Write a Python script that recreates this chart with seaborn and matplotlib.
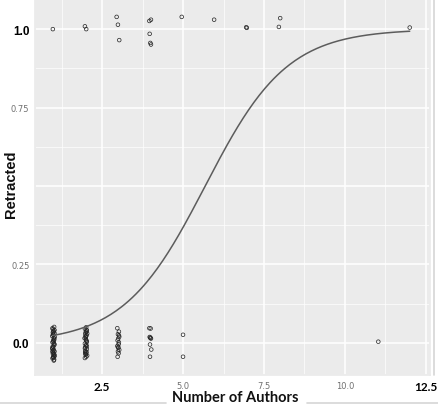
"""
Retraction vs number of authors: jittered points with logistic fit curve.
"""

import numpy as np
import pandas as pd
import seaborn as sns
import matplotlib.pyplot as plt
from matplotlib.lines import Line2D

# Jittered points, not retracted (y near 0)
kept_x = [1.02, 0.98, 1.01, 0.97, 1.03, 0.99, 1.00, 1.04, 0.96, 1.02,
          0.99, 1.01, 0.97, 1.03, 1.00, 0.98, 1.02, 0.96, 1.01, 0.99,
          1.03, 0.97, 1.00, 1.02, 0.98, 1.04, 0.99, 1.01, 0.97, 1.02,
          1.00, 0.98, 1.03, 0.99, 1.01, 0.97, 1.02, 1.00, 0.98, 1.01,
          2.01, 1.97, 2.03, 1.99, 2.02, 1.98, 2.00, 2.04, 1.96, 2.01,
          1.99, 2.03, 1.97, 2.02, 2.00, 1.98, 2.01, 2.03, 1.99, 1.97,
          2.02, 2.00, 1.98, 2.04, 2.01, 1.99, 1.97, 2.02, 2.00, 2.03,
          1.98, 2.01,
          2.97, 3.02, 2.99, 3.03, 3.00, 2.98, 3.02, 3.01, 2.97, 3.00,
          3.03, 2.99, 3.01, 2.98, 3.02, 3.00,
          3.96, 4.00, 3.97, 3.99, 4.01, 3.98, 4.02, 3.98, 3.99,
          5.00, 5.00,
          11.03]
kept_y = [0.051, 0.044, 0.038, 0.047, 0.031, 0.026, 0.035, 0.019, 0.022, 0.013,
          0.008, 0.016, 0.002, -0.004, 0.005, -0.011, -0.007, -0.016, -0.022, -0.013,
          -0.027, -0.019, -0.031, -0.036, -0.025, -0.041, -0.045, -0.038, -0.049, -0.053,
          -0.043, -0.034, 0.041, 0.028, -0.001, -0.028, 0.010, -0.047, 0.033, -0.056,
          0.050, 0.045, 0.039, 0.033, 0.042, 0.027, 0.021, 0.030, 0.015, 0.009,
          0.018, 0.003, -0.002, 0.006, -0.009, -0.014, -0.006, -0.020, -0.025, -0.017,
          -0.030, -0.035, -0.028, -0.040, -0.044, -0.037, -0.048, 0.024, 0.012, -0.011,
          -0.032, 0.036,
          0.047, 0.036, 0.028, 0.020, 0.014, 0.008, 0.002, -0.004, -0.010, -0.016,
          -0.022, -0.027, -0.033, -0.044, 0.024, -0.013,
          0.047, 0.046, 0.019, 0.017, 0.014, -0.005, -0.021, -0.044, 0.016,
          0.026, -0.044,
          0.004]

# Jittered points, retracted (y near 1)
retracted_x = [0.98, 1.97, 2.01, 2.95, 2.99, 3.03, 3.96, 4.01, 3.97, 3.99,
               4.01, 4.96, 5.96, 6.95, 6.97, 8.00, 7.96, 12.00]
retracted_y = [1.000, 1.009, 1.000, 1.039, 1.014, 0.965, 1.026, 1.030, 0.985, 0.956,
               0.951, 1.039, 1.030, 1.006, 1.004, 1.035, 1.007, 1.005]

# logistic fit (glm, binomial)
fit_intercept = -4.49
fit_slope = 0.79

x_ticks = [2.5, 5.0, 7.5, 10.0, 12.5]
x_labels = ["2.5", "5.0", "7.5", "10.0", "12.5"]
y_ticks = [0.0, 0.25, 0.5, 0.75, 1.0]
y_labels = ["0.0", "0.25", "", "0.75", "1.0"]

sns.set_theme(style="darkgrid", rc={"axes.facecolor": "#EBEBEB",
                                    "grid.color": "white",
                                    "axes.edgecolor": "#EBEBEB"})

points = pd.DataFrame({
    "authors": kept_x + retracted_x,
    "retracted": kept_y + retracted_y,
})
grid_x = np.linspace(1, 12, 200)
curve = pd.DataFrame({
    "authors": grid_x,
    "p": 1 / (1 + np.exp(-(fit_intercept + fit_slope * grid_x))),
})

fig = plt.figure(figsize=(4.38, 4.06), dpi=100)
ax = fig.add_axes([0.080, 0.074, 0.902, 0.926])

sns.lineplot(data=curve, x="authors", y="p", color="#5c5c5c", lw=1.1, ax=ax)
sns.scatterplot(data=points, x="authors", y="retracted", marker="o",
                facecolor="none", edgecolor="#222222", linewidth=0.5, s=7, ax=ax)

ax.set_xlim(0.43, 12.63)
ax.set_ylim(-0.102, 1.096)

ax.set_xticks(x_ticks)
ax.set_xticklabels(x_labels)
ax.set_yticks(y_ticks)
ax.set_yticklabels(y_labels)
ax.set_xticks([1.25, 3.75, 6.25, 8.75, 11.25], minor=True)
ax.set_yticks([0.125, 0.375, 0.625, 0.875], minor=True)
ax.grid(which="major", color="white", lw=1.1)
ax.grid(which="minor", color="white", lw=0.5)
ax.tick_params(which="major", length=2.5, width=0.6, color="#555555", pad=1.5)
ax.tick_params(which="minor", length=0)

# ends bold and big, middle labels small and grey
for lbl in ax.get_xticklabels():
    if lbl.get_text() in ("2.5", "12.5"):
        lbl.set_fontfamily("Lato")
        lbl.set_fontweight("bold")
        lbl.set_fontsize(8.5)
        lbl.set_color("black")
    else:
        lbl.set_fontsize(6)
        lbl.set_color("#707070")
for lbl in ax.get_yticklabels():
    if lbl.get_text() in ("0.0", "1.0"):
        lbl.set_fontfamily("Liberation Sans")
        lbl.set_fontweight("bold")
        lbl.set_fontsize(8.5)
        lbl.set_color("black")
    else:
        lbl.set_fontsize(6)
        lbl.set_color("#707070")

ax.set_xlabel("")
ax.set_ylabel("")
fig.text(0.537, 0.019, "Number of Authors", family="Lato", weight="bold",
         fontsize=10.5, ha="center", va="center", color="#111111")
fig.text(0.024, 0.545, "Retracted", family="Liberation Sans", weight="bold",
         fontsize=10.5, rotation=90, ha="center", va="center", color="#111111")

# screenshot edges
fig.add_artist(Line2D([0.992, 0.992], [0.074, 1.0], color="#d6d6d6", lw=1.2))
fig.add_artist(Line2D([0.0, 0.38], [0.006, 0.006], color="#d6d6d6", lw=1.2))
fig.add_artist(Line2D([0.70, 1.0], [0.006, 0.006], color="#d6d6d6", lw=1.2))

plt.savefig("out.png", dpi=100)
